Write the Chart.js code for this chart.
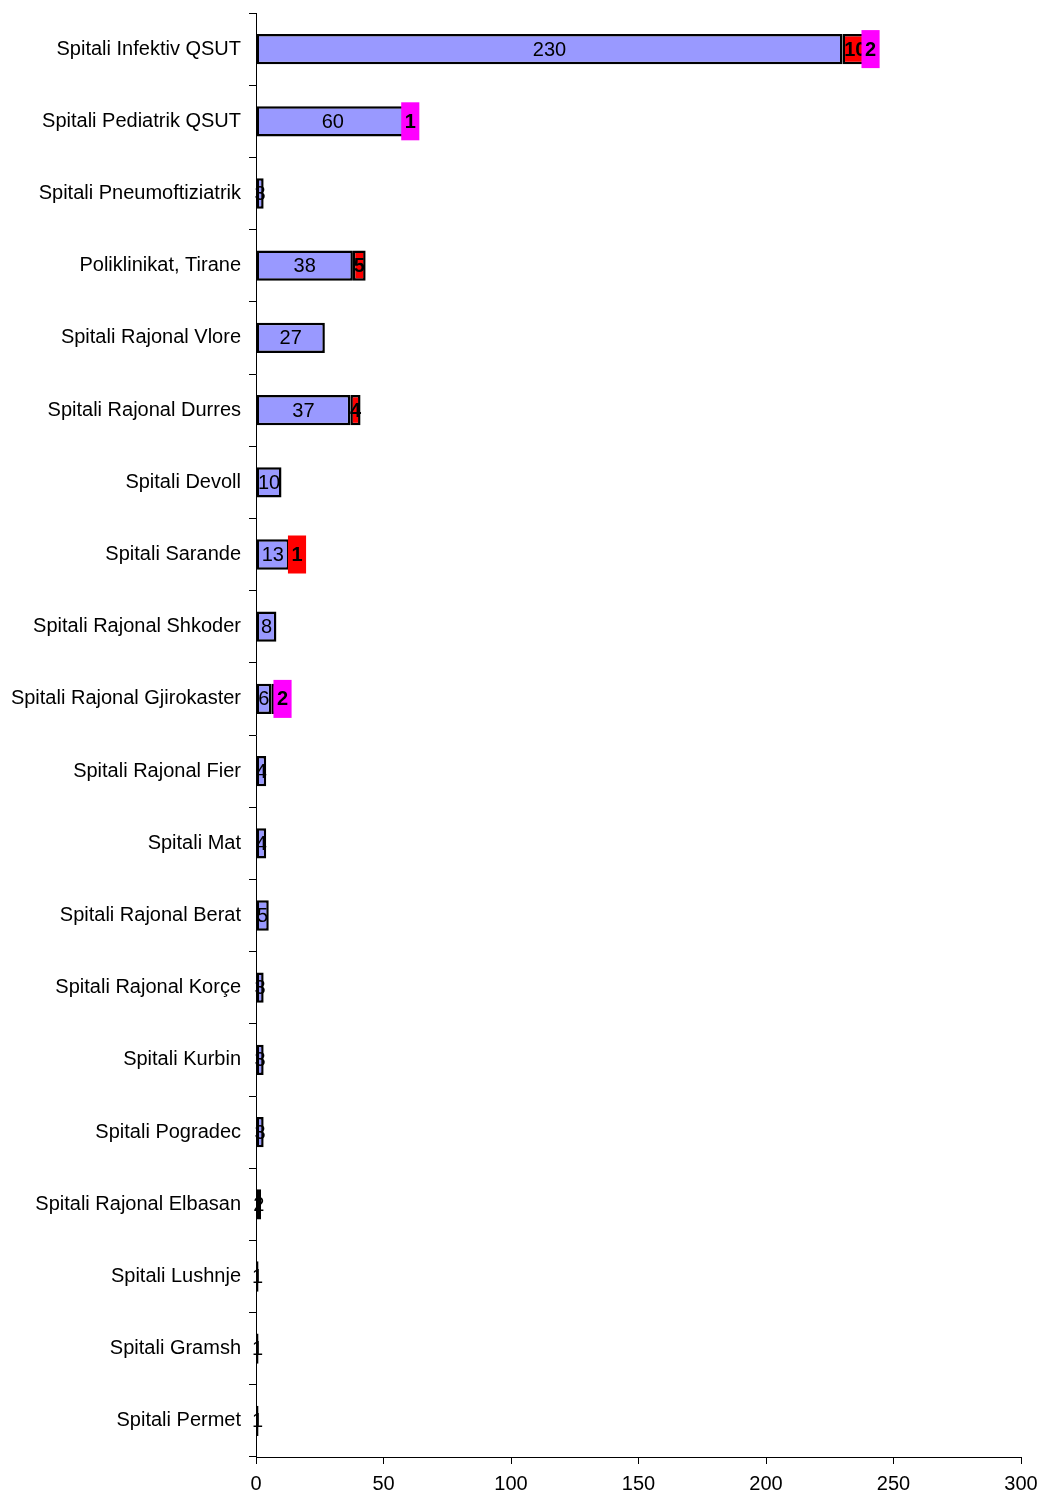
<!DOCTYPE html>
<html>
<head>
<meta charset="utf-8">
<script src="https://cdn.jsdelivr.net/npm/chart.js@4/dist/chart.umd.min.js"></script>
<style>
  body { margin: 0; background: #fff; }
  #wrap { width: 1040px; height: 1497px; position: relative; }
</style>
</head>
<body>
<div id="wrap"><canvas id="hospitalChart"></canvas></div>
<script>
// Kategoritë (spitalet)
const categories = [
    'Spitali Infektiv QSUT', 'Spitali Pediatrik QSUT', 'Spitali Pneumoftiziatrik',
    'Poliklinikat, Tirane', 'Spitali Rajonal Vlore', 'Spitali Rajonal Durres',
    'Spitali Devoll', 'Spitali Sarande', 'Spitali Rajonal Shkoder',
    'Spitali Rajonal Gjirokaster', 'Spitali Rajonal Fier', 'Spitali Mat',
    'Spitali Rajonal Berat', 'Spitali Rajonal Korçe', 'Spitali Kurbin',
    'Spitali Pogradec', 'Spitali Rajonal Elbasan', 'Spitali Lushnje',
    'Spitali Gramsh', 'Spitali Permet'
];

// Seritë
const seriesBlue = [230, 60, 3, 38, 27, 37, 10, 13, 8, 6, 4, 4, 5, 3, 3, 3, 2, 1, 1, 1];
const seriesRed = [10, null, null, 5, null, 4, null, 1, null, null, null, null, null, null, null, null, null, null, null, null];
const seriesMagenta = [2, 1, null, null, null, null, null, null, null, 2, null, null, null, null, null, null, null, null, null, null];

const xTicks = [0, 50, 100, 150, 200, 250, 300];

const FONT = '"Liberation Sans", Arial, Helvetica, sans-serif';

// Etiketat e vlerave mbi shtyllat
const barLabels = {
    id: 'barLabels',
    afterDatasetsDraw(chart) {
        const ctx = chart.ctx;
        ctx.save();
        ctx.textBaseline = 'middle';
        ctx.textAlign = 'center';
        const blueRight = [];
        chart.data.datasets.forEach((ds, di) => {
            const meta = chart.getDatasetMeta(di);
            meta.data.forEach((bar, i) => {
                const v = ds.data[i];
                if (v === null || v === undefined) return;
                const start = Math.min(bar.base, bar.x);
                const end = Math.max(bar.base, bar.x);
                const cx = (start + end) / 2;
                const txt = String(v);
                if (di === 0) {
                    ctx.font = '20px ' + FONT;
                    const w = ctx.measureText(txt).width;
                    blueRight[i] = cx + w / 2;
                    ctx.fillStyle = '#000';
                    ctx.fillText(txt, cx, bar.y + 1);
                    return;
                }
                ctx.font = 'bold 20px ' + FONT;
                const w = ctx.measureText(txt).width;
                if (end - start >= w * 0.8) {
                    ctx.fillStyle = '#000';
                    ctx.fillText(txt, cx, bar.y + 1);
                    return;
                }
                // etiketa nuk hyn: kuti me ngjyrën e serisë
                const bw = w + 7;
                let left = cx - bw / 2;
                if (di === 1 || seriesRed[i] === null) {
                    if (blueRight[i] !== undefined) left = Math.max(left, blueRight[i] + 4);
                }
                ctx.fillStyle = ds.backgroundColor;
                ctx.fillRect(left, bar.y - 19, bw, 38);
                ctx.fillStyle = '#000';
                ctx.fillText(txt, left + bw / 2, bar.y + 1);
            });
        });
        ctx.restore();
    }
};

const hospitalChart = new Chart(document.getElementById('hospitalChart'), {
    type: 'bar',
    data: {
        labels: categories,
        datasets: [
            { data: seriesBlue, backgroundColor: '#9999FF' },
            { data: seriesRed, backgroundColor: '#FF0000' },
            { data: seriesMagenta, backgroundColor: '#FF00FF' }
        ].map(d => Object.assign(d, {
            borderColor: '#000',
            borderWidth: 2.5,
            borderSkipped: false,
            barPercentage: 0.42,
            categoryPercentage: 1
        }))
    },
    options: {
        indexAxis: 'y',
        responsive: true,
        maintainAspectRatio: false,
        animation: false,
        layout: { padding: { left: 10, right: 19, top: 13, bottom: 0 } },
        plugins: {
            legend: { display: false },
            tooltip: { enabled: false }
        },
        scales: {
            x: {
                stacked: true,
                min: 0,
                max: 300,
                afterBuildTicks(scale) {
                    scale.ticks = xTicks.map(v => ({ value: v }));
                },
                afterFit(scale) {
                    scale.height = 40;
                    scale.paddingLeft = 0;
                    scale.paddingRight = 0;
                },
                grid: {
                    drawOnChartArea: false,
                    color: '#000',
                    tickLength: 7
                },
                border: { color: '#000', width: 1 },
                ticks: {
                    color: '#000',
                    padding: 8,
                    maxRotation: 0,
                    font: { family: FONT, size: 20 }
                }
            },
            y: {
                stacked: true,
                afterFit(scale) {
                    scale.width = 246;
                    scale.paddingTop = 0;
                    scale.paddingBottom = 0;
                },
                grid: {
                    drawOnChartArea: false,
                    color: '#000',
                    tickLength: 7,
                    offset: true
                },
                border: { color: '#000', width: 1 },
                ticks: {
                    color: '#000',
                    padding: 8,
                    autoSkip: false,
                    font: { family: FONT, size: 20 }
                }
            }
        }
    },
    plugins: [barLabels]
});
</script>
</body>
</html>
